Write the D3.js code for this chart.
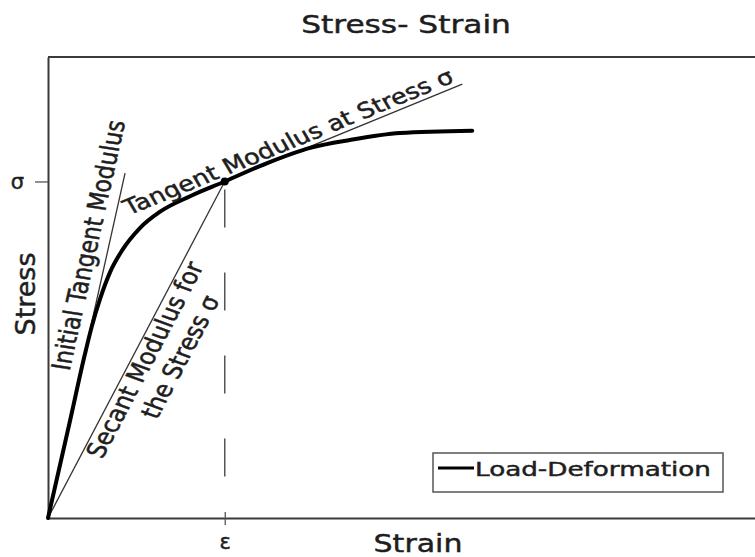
<!DOCTYPE html>
<html>
<head>
<meta charset="utf-8">
<script src="https://cdn.jsdelivr.net/npm/d3@7"></script>
<style>
  body { margin: 0; background: #fff; }
  text { font-family: "DejaVu Sans", Verdana, sans-serif; fill: #1e1e1e; stroke: #1e1e1e; stroke-width: 0.45px; }
</style>
</head>
<body>
<svg id="chart"></svg>
<script>
// load-deformation curve
var strain = [0, 3.1, 5.2, 6.2, 7.4, 8.8, 10.5, 13.0, 15.8, 20.1, 25, 31.0, 37.1, 42.7, 49.8, 60.0];
var stress = [0, 21.0, 35.4, 41.6, 47.7, 53.4, 58.1, 62.9, 66.4, 69.8, 73, 77.0, 80.3, 82.0, 83.5, 84.0];

// the chosen point (epsilon, sigma)
var sigma = 73, epsilon = 25;

// modulus lines: initial tangent, secant, tangent at sigma
var lineNames = ["Initial Tangent Modulus", "Secant Modulus", "Tangent Modulus"];
var lineX1 = [0, 0, 22];
var lineY1 = [0, 0, 71.1];
var lineX2 = [10.9, 25, 58.6];
var lineY2 = [74.8, 73, 94.1];

var width = 755, height = 557;
var margin = {top: 57, right: 0, bottom: 39, left: 48};

var svg = d3.select("#chart")
    .attr("width", width)
    .attr("height", height);

var x = d3.scaleLinear().domain([0, 100]).range([margin.left, width - margin.right]);
var y = d3.scaleLinear().domain([0, 100]).range([height - margin.bottom, margin.top]);

// frame top
svg.append("line")
    .attr("x1", x(0)).attr("x2", width)
    .attr("y1", y(100)).attr("y2", y(100))
    .attr("stroke", "#3a3a3a").attr("stroke-width", 2);

// axes
var yAxis = svg.append("g")
    .attr("transform", "translate(" + x(0) + ",0)")
    .call(d3.axisLeft(y).tickValues([sigma]).tickFormat(function () { return "σ"; })
        .tickSize(13).tickSizeOuter(0).tickPadding(11));
var xAxis = svg.append("g")
    .attr("transform", "translate(0," + y(0) + ")")
    .call(d3.axisBottom(x).tickValues([epsilon]).tickFormat(function () { return "ε"; })
        .tickSize(7).tickSizeOuter(0).tickPadding(9));
[yAxis, xAxis].forEach(function (g) {
    g.select(".domain").attr("stroke", "#3a3a3a").attr("stroke-width", 2);
    g.selectAll(".tick line").attr("stroke", "#555").attr("stroke-width", 1.3);
    g.selectAll(".tick text").style("font-size", "21px").attr("fill", "#1e1e1e")
        .style("font-family", "DejaVu Sans");
});
xAxis.selectAll(".tick line").attr("y1", -6);

// dashed drop line from the point
svg.append("line")
    .attr("x1", x(epsilon)).attr("x2", x(epsilon))
    .attr("y1", y(sigma)).attr("y2", y(0))
    .attr("stroke", "#555").attr("stroke-width", 1.5)
    .attr("stroke-dasharray", "38,45").attr("stroke-dashoffset", 75);

// modulus lines
svg.selectAll(".modline")
    .data(lineNames)
    .enter()
    .append("line")
    .attr("class", "modline")
    .attr("x1", function (d, i) { return x(lineX1[i]); })
    .attr("y1", function (d, i) { return y(lineY1[i]); })
    .attr("x2", function (d, i) { return x(lineX2[i]); })
    .attr("y2", function (d, i) { return y(lineY2[i]); })
    .attr("stroke", "#333").attr("stroke-width", 1.3);

// main curve
var line = d3.line()
    .x(function (d, i) { return x(strain[i]); })
    .y(function (d, i) { return y(stress[i]); })
    .curve(d3.curveMonotoneX);
svg.append("path")
    .datum(strain)
    .attr("d", line)
    .attr("fill", "none")
    .attr("stroke", "#000")
    .attr("stroke-width", 4)
    .attr("stroke-linecap", "round");

svg.append("circle")
    .attr("cx", x(epsilon)).attr("cy", y(sigma)).attr("r", 4)
    .attr("fill", "#000");

// text helpers: the picture is stretched sideways, so the glyphs are too
function stretched(px, py, angleDeg, sx) {
    var a = angleDeg * Math.PI / 180;
    var pre = Math.atan2(Math.sin(a), Math.cos(a) / sx) * 180 / Math.PI;
    return "translate(" + px + "," + py + ") scale(" + sx + ",1) rotate(" + pre + ")";
}
function alongLine(i, t, offset) {
    var x1 = x(lineX1[i]), y1 = y(lineY1[i]), x2 = x(lineX2[i]), y2 = y(lineY2[i]);
    var dx = x2 - x1, dy = y2 - y1, len = Math.sqrt(dx * dx + dy * dy);
    var ux = dx / len, uy = dy / len;
    var px = x1 + dx * t + uy * offset, py = y1 + dy * t - ux * offset;
    return {x: px, y: py, angle: Math.atan2(dy, dx) * 180 / Math.PI};
}

function rotatedLabel(i, t, offset, str, size) {
    var p = alongLine(i, t, offset);
    svg.append("text")
        .attr("transform", stretched(p.x, p.y, p.angle, 1.2))
        .attr("text-anchor", "middle")
        .style("font-size", size + "px")
        .text(str);
}
rotatedLabel(0, 0.78, 11, "Initial Tangent Modulus", 22);
rotatedLabel(2, 0.35, 5, "Tangent Modulus at Stress σ", 21.5);
rotatedLabel(1, 0.49, -21, "Secant Modulus for", 22);
rotatedLabel(1, 0.54, -51, "the Stress σ", 22);

// title and axis titles
svg.append("text")
    .attr("transform", stretched(406, 33, 0, 1.25))
    .attr("text-anchor", "middle")
    .style("font-size", "25px")
    .text("Stress- Strain");
svg.append("text")
    .attr("transform", stretched(418, 552, 0, 1.2))
    .attr("text-anchor", "middle")
    .style("font-size", "25px")
    .text("Strain");
svg.append("text")
    .attr("transform", stretched(35, 294, -90, 1.0))
    .attr("text-anchor", "middle")
    .style("font-size", "27px")
    .text("Stress");

// legend
var legend = svg.append("g").attr("transform", "translate(433,453)");
legend.append("rect")
    .attr("width", 290).attr("height", 39)
    .attr("fill", "#fff").attr("stroke", "#555").attr("stroke-width", 1.5);
legend.append("line")
    .attr("x1", 5).attr("x2", 41).attr("y1", 15).attr("y2", 15)
    .attr("stroke", "#000").attr("stroke-width", 3);
legend.append("text")
    .attr("transform", stretched(42, 23, 0, 1.38))
    .style("font-size", "19px")
    .text("Load-Deformation");
</script>
</body>
</html>
